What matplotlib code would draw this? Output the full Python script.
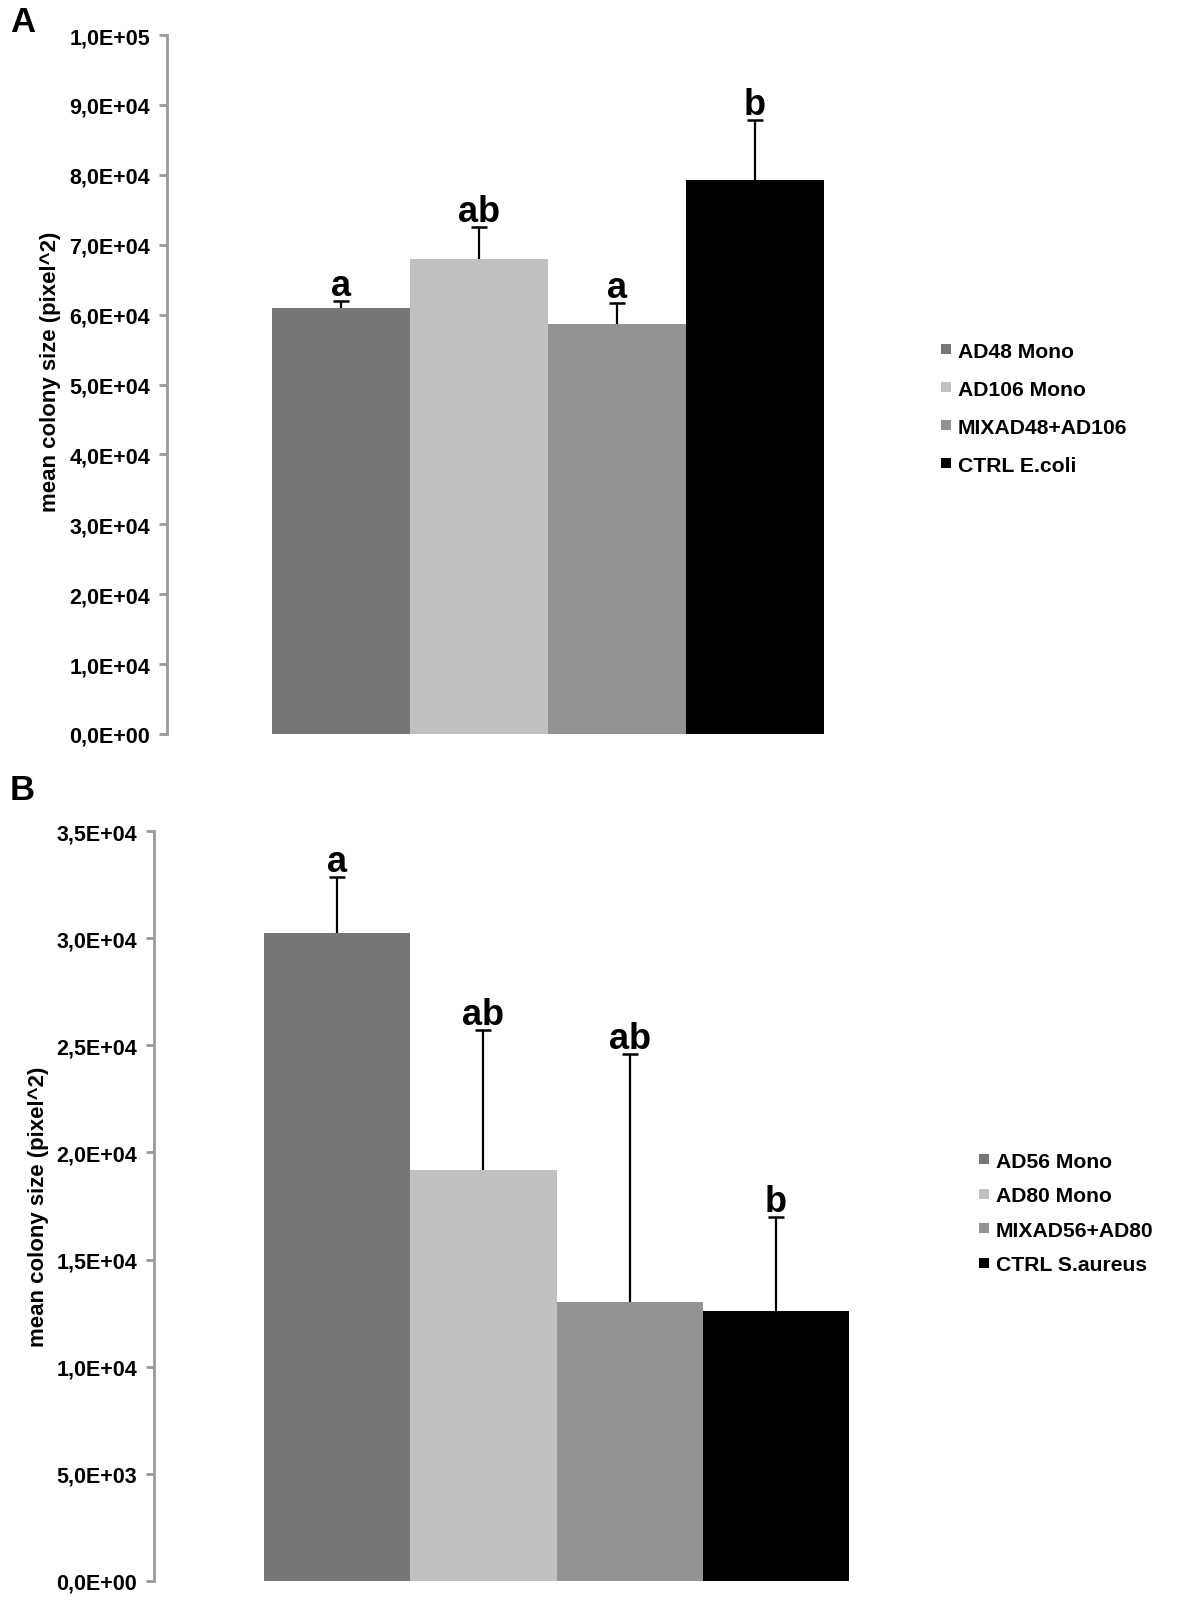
import matplotlib
matplotlib.use("Agg")
import matplotlib.pyplot as plt
from matplotlib.lines import Line2D
from matplotlib.ticker import FuncFormatter
import numpy as np

plt.rcParams['font.family'] = ['Liberation Sans', 'DejaVu Sans']
plt.rcParams['font.weight'] = 'bold'

# panel A data
labels_a = ["AD48 Mono", "AD106 Mono", "MIXAD48+AD106", "CTRL E.coli"]
means_a = [61000, 67900, 58600, 79300]
errs_a = [900, 4600, 3000, 8600]
letters_a = ["a", "ab", "a", "b"]
ticks_a = [0, 10000, 20000, 30000, 40000, 50000, 60000, 70000, 80000, 90000, 100000]

# panel B data
labels_b = ["AD56 Mono", "AD80 Mono", "MIXAD56+AD80", "CTRL S.aureus"]
means_b = [30250, 19200, 13000, 12600]
errs_b = [2600, 6500, 11600, 4400]
letters_b = ["a", "ab", "ab", "b"]
ticks_b = [0, 5000, 10000, 15000, 20000, 25000, 30000, 35000]

colours = ["#767676", "#c0c0c0", "#939393", "#000000"]

W, H = 1200, 1606
fig = plt.figure(figsize=(W / 100, H / 100), dpi=100)


def sci_comma(v, pos):
    # excel style 1,0E+05
    if v == 0:
        return "0,0E+00"
    exp = int(np.floor(np.log10(abs(v))))
    mant = v / 10 ** exp
    return f"{mant:.1f}".replace(".", ",") + f"E+{exp:02d}"


def panel(rect_px, means, errs, letters, labels, ticks, ymax, left_units,
          legend_xy, legend_spacing):
    x0, x1, ytop, ybot = rect_px
    ax = fig.add_axes([x0 / W, 1 - ybot / H, (x1 - x0) / W, (ybot - ytop) / H])
    x = np.arange(len(means))
    means = np.array(means)
    errs = np.array(errs)
    ax.bar(x, means, width=1.0, color=colours, edgecolor="none")

    # upper error bars only
    ax.vlines(x, means, means + errs, color="black", lw=1.6)
    ax.plot(x, means + errs, linestyle="none", marker="_", color="black",
            ms=11, mew=1.8)

    for xi, top, let in zip(x, means + errs, letters):
        ax.annotate(let, (xi, top), xytext=(0, 6), textcoords="offset pixels",
                    ha="center", va="baseline", fontsize=26, fontweight="bold")

    ax.set_xlim(-0.5 - left_units, 3.5)
    ax.set_ylim(0, ymax)
    ax.set_yticks(ticks)
    ax.yaxis.set_major_formatter(FuncFormatter(sci_comma))
    ax.set_xticks([])
    for s in ["top", "right", "bottom"]:
        ax.spines[s].set_visible(False)
    ax.spines["left"].set_color("#9a9a9a")
    ax.spines["left"].set_linewidth(2)
    ax.tick_params(axis="y", color="#9a9a9a", width=2, length=6, pad=6,
                   labelsize=15.5)
    for t in ax.get_yticklabels():
        t.set_fontweight("bold")
    ax.set_ylabel("mean colony size (pixel^2)", fontsize=16, fontweight="bold")

    handles = [Line2D([], [], linestyle="none", marker="s", ms=7.5,
                      color=c, markeredgewidth=0) for c in colours]
    fig.legend(handles, labels, loc="center left",
               bbox_to_anchor=(legend_xy[0] / W, 1 - legend_xy[1] / H),
               frameon=False, prop={"weight": "bold", "size": 15.2},
               handlelength=0.6, handletextpad=0.25, borderpad=0,
               borderaxespad=0, labelspacing=legend_spacing)
    return ax


ax_a = panel((167, 824, 36, 735), means_a, errs_a, letters_a, labels_a,
             ticks_a, 100000, (272 - 167) / 138.0, (940, 409), 0.9)
ax_a.yaxis.set_label_coords(-0.161, 0.519)

ax_b = panel((154, 849, 832, 1582), means_b, errs_b, letters_b, labels_b,
             ticks_b, 35000, (264 - 154) / 146.25, (978, 1214), 0.73)
ax_b.yaxis.set_label_coords(-0.151, 0.5)

fig.text(10 / W, 1 - 6 / H, "A", fontsize=25, fontweight="bold", va="top")
fig.text(10 / W, 1 - 774 / H, "B", fontsize=25, fontweight="bold", va="top")

fig.savefig("out.png", dpi=100)
